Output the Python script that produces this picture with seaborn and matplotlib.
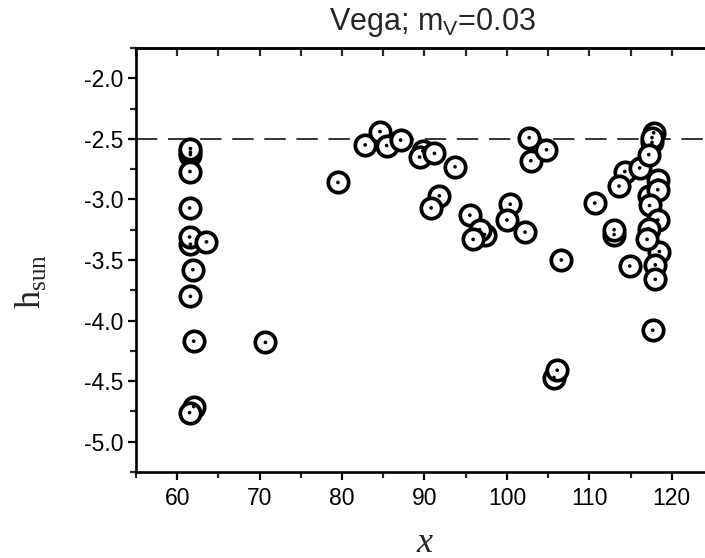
import matplotlib
matplotlib.use("Agg")
import matplotlib.pyplot as plt
import seaborn as sns
import pandas as pd
import numpy as np
from matplotlib.ticker import MultipleLocator, FixedLocator

# ---- data ----
x_vals = [61.6, 61.6, 61.6, 61.55, 61.5, 61.6, 61.5, 63.55, 61.9, 61.6,
          62.0, 62.0, 61.5, 70.7, 79.5, 82.8, 84.6, 85.4, 87.1, 89.8,
          89.4, 91.2, 93.7, 91.8, 90.8, 95.5, 97.3, 96.7, 95.9, 100.4,
          100.0, 102.2, 102.7, 102.9, 104.8, 106.6, 105.7, 106.1, 110.65, 113.0,
          113.0, 114.3, 113.6, 114.9, 116.1, 117.6, 117.8, 117.6, 117.2, 118.3,
          117.2, 118.3, 117.3, 118.3, 117.2, 118.5, 117.0, 118.0, 118.0, 117.7]
h_vals = [-2.63, -2.61, -2.58, -2.77, -3.07, -3.37, -3.31, -3.35, -3.58, -3.80,
          -4.17, -4.71, -4.76, -4.18, -2.86, -2.55, -2.44, -2.555, -2.51, -2.60,
          -2.65, -2.62, -2.73, -2.97, -3.07, -3.13, -3.29, -3.25, -3.33, -3.04,
          -3.17, -3.27, -2.49, -2.68, -2.59, -3.50, -4.47, -4.41, -3.03, -3.29,
          -3.25, -2.77, -2.89, -3.55, -2.74, -2.53, -2.45, -2.49, -2.63, -2.84,
          -2.97, -2.92, -3.05, -3.17, -3.24, -3.43, -3.33, -3.54, -3.66, -4.08]
ref_level = -2.5
x_major = [60, 70, 80, 90, 100, 110, 120]
y_major = [-2.0, -2.5, -3.0, -3.5, -4.0, -4.5, -5.0]
title_text = r"Vega; m$_\mathregular{V}$=0.03"
xlabel_text = "x"
ylabel_text = r"h$_\mathregular{sun}$"

df = pd.DataFrame({"x": x_vals, "h": h_vals})

sns.set_style("ticks")
plt.rcParams["font.family"] = ["Liberation Sans", "DejaVu Sans"]
plt.rcParams["mathtext.fontset"] = "custom"

fig = plt.figure(figsize=(7.05, 5.58), dpi=100)
ax = fig.add_axes([136/705, 1-472/558, (713-136)/705, (472-48)/558])

sns.scatterplot(data=df, x="x", y="h", ax=ax, s=215, marker="o",
                facecolor="white", edgecolor="black", linewidth=2.7, zorder=3)
sns.scatterplot(data=df, x="x", y="h", ax=ax, s=7, marker="o",
                color="black", edgecolor="none", linewidth=0, zorder=4)

ax.axhline(ref_level, color="black", lw=1.1, ls=(0, (14, 7)), zorder=2)

ax.set_xlim(55, 125)
ax.set_ylim(-5.25, -1.75)
ax.xaxis.set_major_locator(FixedLocator(x_major))
ax.xaxis.set_minor_locator(MultipleLocator(5))
ax.yaxis.set_major_locator(FixedLocator(y_major))
ax.yaxis.set_minor_locator(MultipleLocator(0.25))
ax.set_xticklabels([str(v) for v in x_major])
ax.set_yticklabels([f"{v:.1f}" for v in y_major])
ax.set_xlabel("")
ax.set_ylabel("")

for sp in ax.spines.values():
    sp.set_visible(True)
    sp.set_linewidth(1.9)
    sp.set_color("black")

ax.tick_params(axis="both", which="major", direction="out", length=5.8, width=1.6,
               labelsize=16.5, colors="black", top=False, right=False)
ax.tick_params(axis="both", which="minor", direction="out", length=4.2, width=1.6,
               top=False, right=False)
ax.tick_params(axis="x", which="major", pad=5)
ax.tick_params(axis="y", which="major", pad=3)

# mirrored inward ticks on top and right
top = ax.secondary_xaxis("top")
top.xaxis.set_major_locator(FixedLocator(x_major))
top.xaxis.set_minor_locator(MultipleLocator(5))
top.tick_params(which="both", direction="in", length=5.5, width=1.6, labeltop=False)
top.spines["top"].set_linewidth(1.9)
right = ax.secondary_yaxis("right")
right.yaxis.set_major_locator(FixedLocator(y_major))
right.yaxis.set_minor_locator(MultipleLocator(0.25))
right.tick_params(which="both", direction="in", length=5.5, width=1.6, labelright=False)
right.spines["right"].set_linewidth(1.9)

fig.text(432/705, 1-30/558, title_text, ha="center", va="baseline",
         fontsize=22, family=["Liberation Sans", "DejaVu Sans"])
fig.text(424/705, 1-543/558, xlabel_text, ha="center", va="center",
         fontsize=26, style="italic", family=["Liberation Serif", "DejaVu Serif"])
fig.text(30/705, 1-281/558, ylabel_text, ha="center", va="center", rotation=90,
         fontsize=26, family=["Liberation Serif", "DejaVu Serif"])

fig.savefig("out.png", dpi=100)
